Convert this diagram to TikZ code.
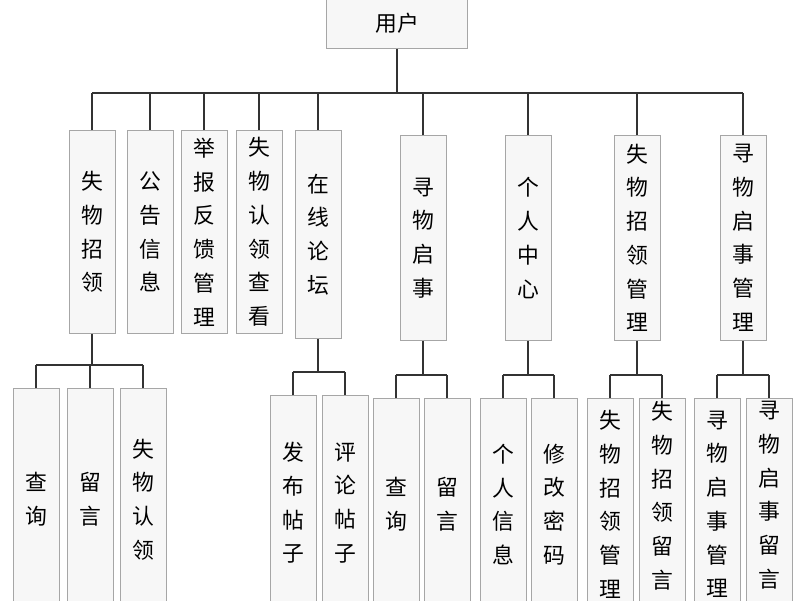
\documentclass[tikz,border=0pt]{standalone}
\usepackage{fontspec}
\newfontfamily\cjk{Noto Sans CJK SC}
\usetikzlibrary{positioning}
\newlength\px
\setlength\px{0.025cm}
\tikzset{
  box/.style={rectangle, draw=gray!70, fill=gray!6, line width=0.6pt, anchor=north,
    minimum width=46\px, inner sep=2pt, align=center, font=\cjk\fontsize{15.5}{24}\selectfont},
  link/.style={draw=black!80, line width=0.8pt}
}
\begin{document}
\begin{tikzpicture}[x=0.025cm, y=-0.025cm]
	\useasboundingbox (0,0) rectangle (800,600);
	\clip (0,0) rectangle (800,600);
	\fill[white] (0,0) rectangle (800,600);

	% top
	\node[box, minimum width=141\px, minimum height=50\px](user) at (397,-2){用户};
	\coordinate (busTop) at (397,93);

	% first level
	\node[box, minimum height=203\px](swzl) at (92,130){失\\物\\招\\领};
	\node[box, minimum height=203\px](ggxx) at (150,130){公\\告\\信\\息};
	\node[box, minimum height=203\px](jbfk) at (204,130){举\\报\\反\\馈\\管\\理};
	\node[box, minimum height=203\px](swrl) at (259,130){失\\物\\认\\领\\查\\看};
	\node[box, minimum height=208\px](zxlt) at (318,130){在\\线\\论\\坛};
	\node[box, minimum height=205\px](xwqs) at (423,135){寻\\物\\启\\事};
	\node[box, minimum height=205\px](grzx) at (528,135){个\\人\\中\\心};
	\node[box, minimum height=205\px](swgl) at (637,135){失\\物\\招\\领\\管\\理};
	\node[box, minimum height=205\px](xwgl) at (743,135){寻\\物\\启\\事\\管\\理};

	% second level
	\node[box, minimum height=222\px](cx1) at (36,388){查\\询};
	\node[box, minimum height=222\px](ly1) at (90,388){留\\言};
	\node[box, minimum height=222\px](rl1) at (143,388){失\\物\\认\\领};
	\node[box, minimum height=215\px](fbtz) at (293,395){发\\布\\帖\\子};
	\node[box, minimum height=215\px](pltz) at (345,395){评\\论\\帖\\子};
	\node[box, minimum height=212\px](cx2) at (396,398){查\\询};
	\node[box, minimum height=212\px](ly2) at (447,398){留\\言};
	\node[box, minimum height=212\px](grxx) at (503,398){个\\人\\信\\息};
	\node[box, minimum height=212\px](xgmm) at (554,398){修\\改\\密\\码};
	\node[box, minimum height=212\px](swgl1) at (610,398){失\\物\\招\\领\\管\\理};
	\node[box, minimum height=212\px](swgl2) at (662,398){失\\物\\招\\领\\留\\言\\管\\理};
	\node[box, minimum height=212\px](xwgl1) at (717,398){寻\\物\\启\\事\\管\\理};
	\node[box, minimum height=212\px](xwgl2) at (769,398){寻\\物\\启\\事\\留\\言\\管\\理};

	% links level 1
	\draw[link] (user.south) -- (busTop);
	\draw[link] (swzl.north |- busTop) -- (xwgl.north |- busTop);
	\foreach \n in {swzl,ggxx,jbfk,swrl,zxlt,xwqs,grzx,swgl,xwgl}
		\draw[link] (\n.north) -- (\n.north |- busTop);

	% links level 2
	\foreach \p/\a/\b/\y in {swzl/cx1/rl1/365, zxlt/fbtz/pltz/372, xwqs/cx2/ly2/375,
		grzx/grxx/xgmm/375, swgl/swgl1/swgl2/375, xwgl/xwgl1/xwgl2/375}{
		\coordinate (\p Bus) at (0,\y);
		\draw[link] (\p.south) -- (\p.south |- \p Bus);
		\draw[link] (\a.north |- \p Bus) -- (\b.north |- \p Bus);
	}
	\foreach \c/\p in {cx1/swzl,ly1/swzl,rl1/swzl,fbtz/zxlt,pltz/zxlt,cx2/xwqs,ly2/xwqs,
		grxx/grzx,xgmm/grzx,swgl1/swgl,swgl2/swgl,xwgl1/xwgl,xwgl2/xwgl}
		\draw[link] (\c.north) -- (\c.north |- \p Bus);
\end{tikzpicture}
\end{document}
